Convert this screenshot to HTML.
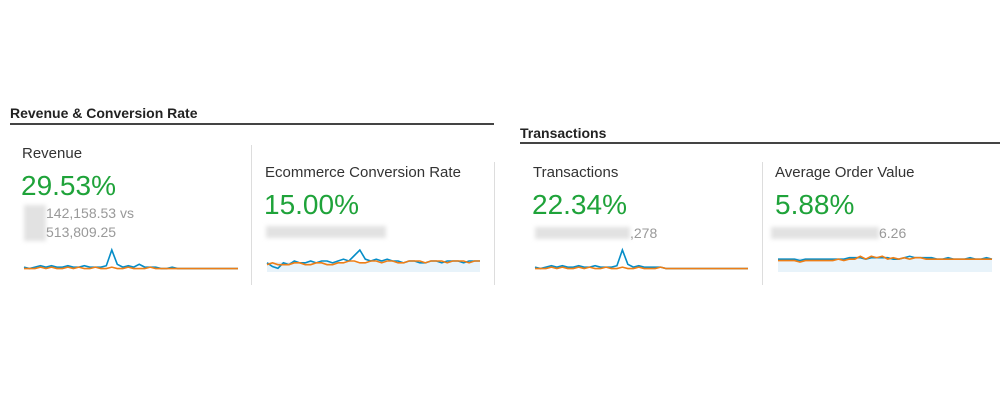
<!DOCTYPE html>
<html><head><meta charset="utf-8">
<style>
body{margin:0;width:1000px;height:400px;background:#fff;font-family:"Liberation Sans",Arial,sans-serif;position:relative;overflow:hidden}
.a{position:absolute;white-space:nowrap}
.t{font-weight:bold;font-size:14px;color:#222}
.rule{position:absolute;height:2px;background:#444}
.lab{font-size:15px;color:#333}
.val{font-size:28px;color:#1fa33a}
.sub{font-size:14px;color:#999}
.blur{position:absolute;background:#e2e2e2;filter:blur(2px)}
.div{position:absolute;width:1px;background:#ddd}
</style></head><body>
<div class="a t" style="left:10px;top:105px">Revenue &amp; Conversion Rate</div>
<div class="rule" style="left:10px;top:123px;width:484px"></div>
<div class="a t" style="left:520px;top:125px">Transactions</div>
<div class="rule" style="left:520px;top:142px;width:480px"></div>

<div class="a lab" style="left:22px;top:145px">Revenue</div>
<div class="a val" style="left:21px;top:170px">29.53%</div>
<div class="blur" style="left:24px;top:205px;width:22px;height:36px"></div>
<div class="a sub" style="left:46px;top:205px">142,158.53 vs</div>
<div class="a sub" style="left:46px;top:224px">513,809.25</div>
<div class="div" style="left:251px;top:145px;height:140px"></div>

<div class="a lab" style="left:265px;top:164px">Ecommerce Conversion Rate</div>
<div class="a val" style="left:264px;top:189px">15.00%</div>
<div class="blur" style="left:266px;top:226px;width:120px;height:12px"></div>
<div class="div" style="left:494px;top:162px;height:123px"></div>

<div class="a lab" style="left:533px;top:164px">Transactions</div>
<div class="a val" style="left:532px;top:189px">22.34%</div>
<div class="blur" style="left:535px;top:227px;width:95px;height:12px"></div>
<div class="a sub" style="left:630px;top:225px">,278</div>
<div class="div" style="left:762px;top:162px;height:123px"></div>

<div class="a lab" style="left:775px;top:164px">Average Order Value</div>
<div class="a val" style="left:775px;top:189px">5.88%</div>
<div class="blur" style="left:771px;top:227px;width:108px;height:12px"></div>
<div class="a sub" style="left:879px;top:225px">6.26</div>

<svg id="s" width="1000" height="400" style="position:absolute;left:0;top:0"></svg>
<script>
const revBlue=[2,1,2,3,2,3,2,2,3,2,2,3,2,2,2,3,14,4,2,3,2,4,2,2,2,1,1,2,1,1,1,1,1,1,1,1,1,1,1,1];
const revOrange=[1,1,1,2,1,2,1,1,2,1,2,1,1,2,1,1,2,1,1,2,1,1,1,2,1,1,1,1,1,1,1,1,1,1,1,1,1,1,1,1];
const convBlue=[5,3,2,5,4,6,5,5,6,5,6,6,5,6,7,6,9,12,7,6,7,6,7,6,6,5,6,6,5,5,6,6,5,6,6,6,5,6,6,6];
const convOrange=[4,5,4,4,4,5,5,4,4,5,5,4,4,5,5,6,6,5,5,6,6,5,6,6,5,5,6,6,6,5,6,6,6,5,6,6,6,5,6,6];
const trBlue=[2,1,2,3,2,3,2,2,3,2,2,3,2,2,2,3,14,4,2,3,2,2,2,2,1,1,1,1,1,1,1,1,1,1,1,1,1,1,1,1];
const trOrange=[1,1,1,2,1,2,1,1,2,1,2,1,1,2,1,1,2,1,1,2,1,1,1,2,1,1,1,1,1,1,1,1,1,1,1,1,1,1,1,1];
const aovBlue=[9,9,9,9,8,9,9,9,9,9,9,9,9,10,10,10,9,10,10,10,10,9,9,10,11,10,10,10,10,9,9,10,9,9,9,10,9,9,10,9];
const aovOrange=[8,8,8,8,7,8,8,8,8,8,8,9,8,9,9,11,9,11,10,11,9,10,9,10,9,10,10,9,9,9,9,9,9,9,9,9,9,9,9,9];
const charts=[
 {name:'revenue',x0:24,x1:238,yb:270,h:20,max:14,fill:0,b:revBlue,o:revOrange},
 {name:'conversion',x0:267,x1:480,yb:272,h:22,max:12,fill:10,b:convBlue,o:convOrange},
 {name:'transactions',x0:535,x1:748,yb:270,h:20,max:14,fill:0,b:trBlue,o:trOrange},
 {name:'aov',x0:778,x1:992,yb:272,h:20,max:14,fill:14,b:aovBlue,o:aovOrange}];
const s=document.getElementById('s');const NS='http://www.w3.org/2000/svg';
charts.forEach(c=>{
 const xs=i=>c.x0+i*(c.x1-c.x0)/(c.b.length-1);
 const ys=v=>c.yb-v/c.max*c.h;
 if(c.fill){const r=document.createElementNS(NS,'rect');
  
  
  r.setAttribute('x',c.x0);r.setAttribute('y',c.yb-c.fill);r.setAttribute('width',c.x1-c.x0);r.setAttribute('height',c.fill);r.setAttribute('fill','#e8f3fa');s.appendChild(r);}
 [['b','#058dc7'],['o','#ed7e17']].forEach(([k,col])=>{
  const p=document.createElementNS(NS,'polyline');
  
  
  p.setAttribute('points',c[k].map((v,i)=>xs(i)+','+ys(v)).join(' '));
  p.setAttribute('fill','none');p.setAttribute('stroke',col);p.setAttribute('stroke-width','1.6');s.appendChild(p);});
});
</script>
</body></html>
